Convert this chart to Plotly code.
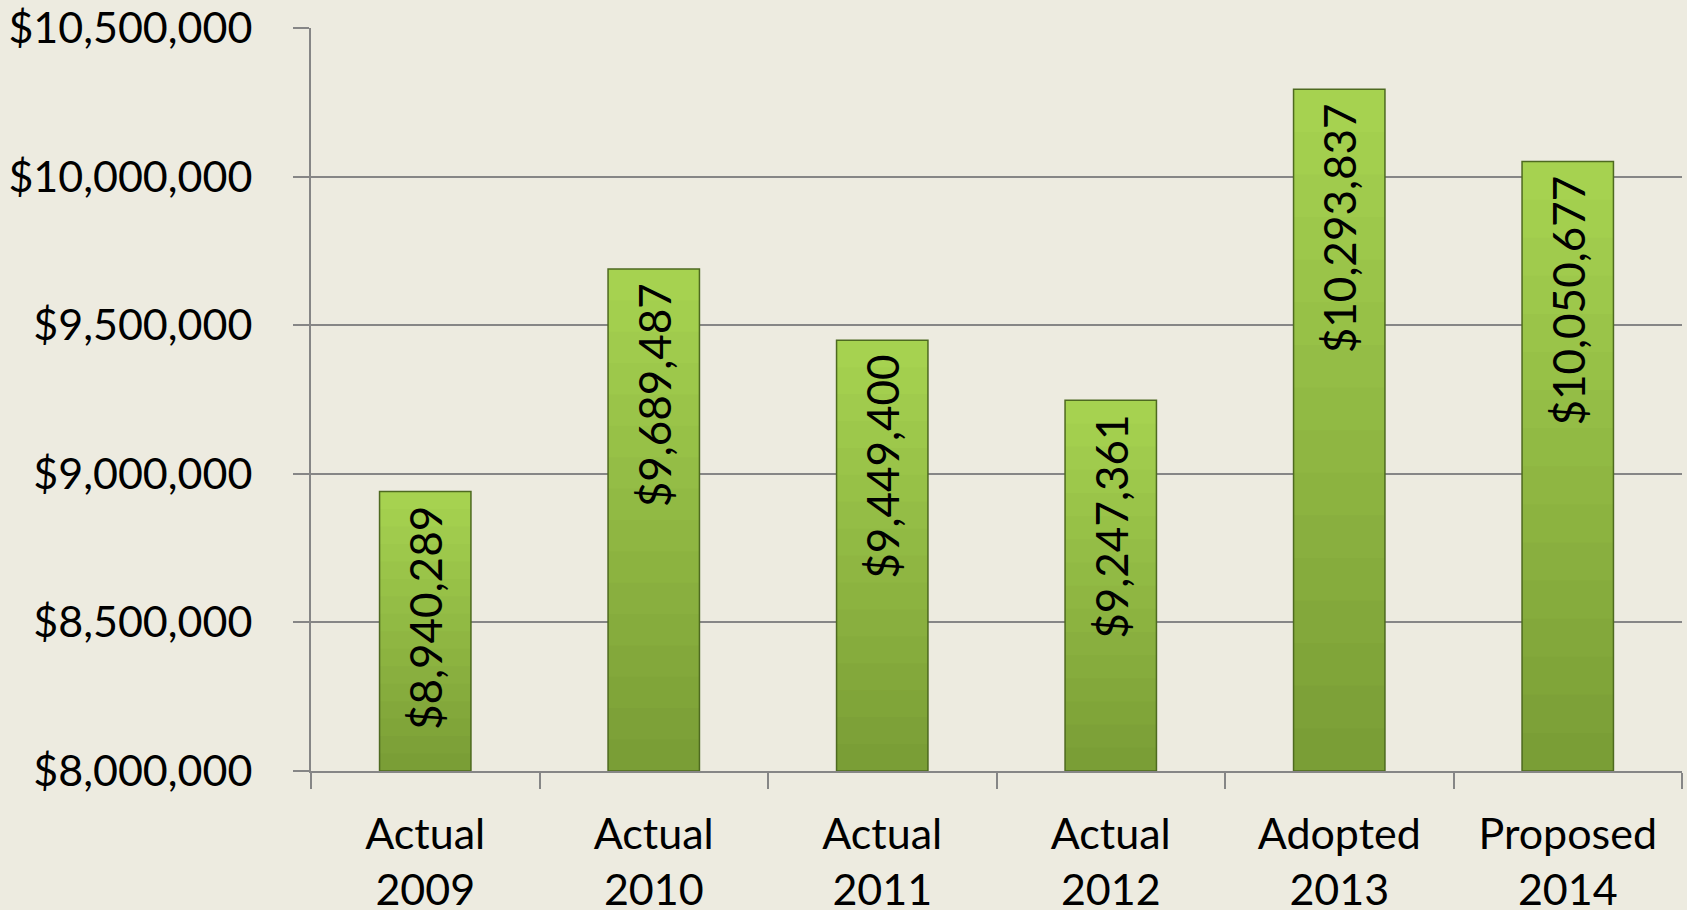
import plotly.graph_objects as go

categories = ["Actual<br>2009", "Actual<br>2010", "Actual<br>2011", "Actual<br>2012",
              "Adopted<br>2013", "Proposed<br>2014"]
values = [8940289, 9689487, 9449400, 9247361, 10293837, 10050677]
value_labels = ["$8,940,289", "$9,689,487", "$9,449,400", "$9,247,361",
                "$10,293,837", "$10,050,677"]
y_ticks = [8000000, 8500000, 9000000, 9500000, 10000000, 10500000]
y_tick_labels = ["$8,000,000", "$8,500,000", "$9,000,000", "$9,500,000",
                 "$10,000,000", "$10,500,000"]

BASE = 8000000
FONT = "Lato"
FSIZE = 43
BG = "#edebe0"
top_rgb = (166, 210, 80)
bot_rgb = (122, 158, 54)
N_LAYERS = 16

fig = go.Figure()

# gradient: stacked overlay layers, each shorter and darker
for k in range(N_LAYERS):
    t = k / (N_LAYERS - 1)
    r = round(top_rgb[0] + (bot_rgb[0] - top_rgb[0]) * t)
    g = round(top_rgb[1] + (bot_rgb[1] - top_rgb[1]) * t)
    b = round(top_rgb[2] + (bot_rgb[2] - top_rgb[2]) * t)
    frac = 1 - k / N_LAYERS
    fig.add_trace(go.Bar(
        x=categories,
        y=[(v - BASE) * frac for v in values],
        base=BASE,
        marker=dict(color=f"rgb({r},{g},{b})", line=dict(width=0)),
        hoverinfo="skip",
        showlegend=False,
    ))

# outline + labels
fig.add_trace(go.Bar(
    x=categories,
    y=[v - BASE for v in values],
    base=BASE,
    marker=dict(color="rgba(0,0,0,0)", line=dict(color="#4e6a20", width=1.5)),
    text=[s + "\u00a0" for s in value_labels],
    textposition="inside",
    insidetextanchor="end",
    textangle=-90,
    textfont=dict(family=FONT, size=44, color="black"),
    constraintext="none",
    hovertemplate="%{x}: %{text}<extra></extra>",
    showlegend=False,
))

fig.update_layout(
    width=1687,
    height=910,
    barmode="overlay",
    bargap=0.6,
    paper_bgcolor=BG,
    plot_bgcolor=BG,
    margin=dict(l=311, r=5, t=28, b=139),
    font=dict(family=FONT, size=FSIZE, color="black"),
)

fig.update_xaxes(
    type="category",
    automargin=False,
    showline=True, linecolor="#868686", linewidth=2,
    ticks="outside", tickson="boundaries", ticklen=16, tickcolor="#868686", tickwidth=2,
    showgrid=False,
    ticklabelstandoff=24,
    tickfont=dict(family=FONT, size=FSIZE, color="black"),
)

fig.update_yaxes(
    range=[BASE, 10500000],
    automargin=False,
    tickvals=y_ticks,
    ticktext=y_tick_labels,
    showline=True, linecolor="#868686", linewidth=2,
    ticks="outside", ticklen=16, tickcolor="#868686", tickwidth=2,
    showgrid=True, gridcolor="#868686", gridwidth=2,
    zeroline=False,
    ticklabelstandoff=32,
    tickfont=dict(family=FONT, size=FSIZE, color="black"),
)

fig.write_html(
    "out.html",
    config={"displayModeBar": False},
    post_script=(
        "document.body.style.margin='0';"
        "document.body.style.overflow='hidden';"
        f"document.body.style.background='{BG}';"
    ),
)
